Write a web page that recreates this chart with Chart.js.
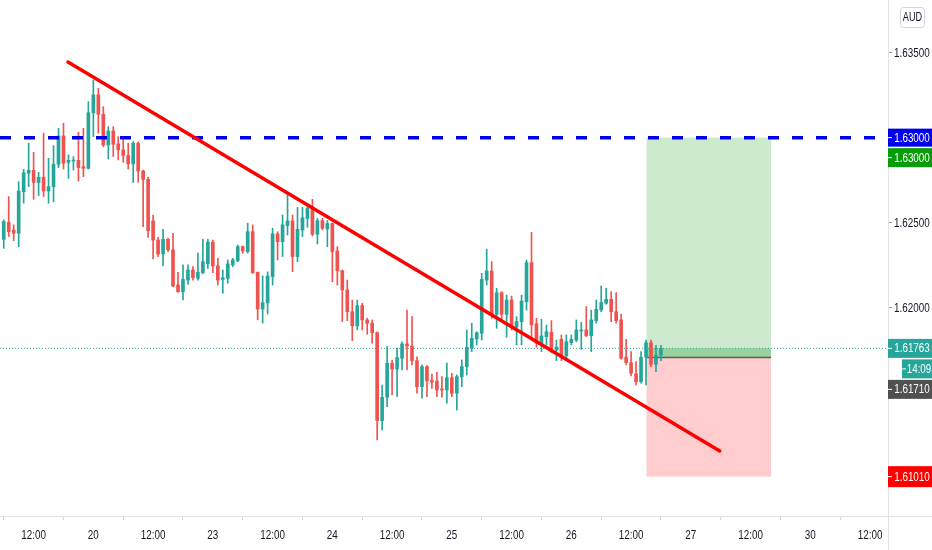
<!DOCTYPE html>
<html>
<head>
<meta charset="utf-8">
<script src="https://cdn.jsdelivr.net/npm/chart.js@4.4.1/dist/chart.umd.min.js"></script>
<style>
  html, body { margin: 0; padding: 0; background: #ffffff; }
  #wrap { position: relative; width: 932px; height: 550px; }
</style>
</head>
<body>
<div id="wrap"><canvas id="chart"></canvas></div>
<script>
'use strict'
// hourly candles, hour 0 = 19th 12:00
const firstHour = -6
const opens = [
  1.62403, 1.62503, 1.62458, 1.62439, 1.62683, 1.62791, 1.62808, 1.62737, 1.62767, 1.62687,
  1.62712, 1.62844, 1.63010, 1.62855, 1.62863, 1.62867, 1.62830, 1.62820, 1.63146, 1.63251,
  1.63137, 1.62957, 1.63039, 1.62963, 1.62928, 1.62895, 1.62846, 1.62967, 1.62804, 1.62755,
  1.62511, 1.62399, 1.62318, 1.62403, 1.62341, 1.62135, 1.62096, 1.62164, 1.62223, 1.62174,
  1.62207, 1.62260, 1.62387, 1.62247, 1.62168, 1.62174, 1.62253, 1.62278, 1.62360, 1.62331,
  1.62448, 1.62209, 1.61994, 1.62031, 1.62184, 1.62435, 1.62389, 1.62484, 1.62511, 1.62302,
  1.62458, 1.62526, 1.62585, 1.62433, 1.62513, 1.62464, 1.62496, 1.62335, 1.62219, 1.62106,
  1.61978, 1.61895, 1.62014, 1.61930, 1.61911, 1.61855, 1.61339, 1.61476, 1.61676, 1.61642,
  1.61705, 1.61789, 1.61777, 1.61691, 1.61538, 1.61656, 1.61577, 1.61571, 1.61524, 1.61519,
  1.61591, 1.61500, 1.61597, 1.61656, 1.61764, 1.61818, 1.61852, 1.62164, 1.62217, 1.61963,
  1.62090, 1.61963, 1.62047, 1.61887, 1.61920, 1.62037, 1.62266, 1.61907, 1.61789, 1.61832,
  1.61858, 1.61754, 1.61816, 1.61719, 1.61796, 1.61812, 1.61865, 1.61871, 1.61838, 1.61926,
  1.61988, 1.62028, 1.62051, 1.61978, 1.61930, 1.61711, 1.61679, 1.61613, 1.61567, 1.61711,
  1.61796, 1.61669, 1.61722
]
const highs = [
  1.62517, 1.62654, 1.62488, 1.62741, 1.62814, 1.62967, 1.62914, 1.62796, 1.63026, 1.62879,
  1.62953, 1.63055, 1.63085, 1.62899, 1.62889, 1.63031, 1.63055, 1.63211, 1.63338, 1.63289,
  1.63182, 1.63065, 1.63065, 1.63006, 1.62996, 1.62967, 1.62976, 1.62976, 1.62810, 1.62769,
  1.62546, 1.62415, 1.62462, 1.62411, 1.62439, 1.62209, 1.62253, 1.62253, 1.62243, 1.62322,
  1.62405, 1.62403, 1.62399, 1.62292, 1.62223, 1.62282, 1.62292, 1.62370, 1.62364, 1.62498,
  1.62488, 1.62212, 1.62188, 1.62212, 1.62468, 1.62448, 1.62546, 1.62664, 1.62546, 1.62591,
  1.62591, 1.62605, 1.62638, 1.62526, 1.62526, 1.62513, 1.62499, 1.62360, 1.62223, 1.62164,
  1.62047, 1.62047, 1.62028, 1.61940, 1.61930, 1.61860, 1.61548, 1.61773, 1.61695, 1.61764,
  1.61802, 1.61988, 1.61949, 1.61714, 1.61666, 1.61662, 1.61612, 1.61622, 1.61598, 1.61676,
  1.61617, 1.61607, 1.61695, 1.61871, 1.61911, 1.61861, 1.62204, 1.62345, 1.62272, 1.62116,
  1.62096, 1.62076, 1.62070, 1.61949, 1.62076, 1.62282, 1.62444, 1.61940, 1.61934, 1.61900,
  1.61926, 1.61812, 1.61842, 1.61842, 1.61842, 1.61930, 1.61916, 1.62008, 1.61988, 1.62047,
  1.62129, 1.62116, 1.62096, 1.62090, 1.61965, 1.61816, 1.61744, 1.61685, 1.61744, 1.61812,
  1.61812, 1.61781, 1.61781
]
const lows = [
  1.62350, 1.62419, 1.62395, 1.62360, 1.62615, 1.62712, 1.62638, 1.62660, 1.62654, 1.62615,
  1.62624, 1.62824, 1.62816, 1.62761, 1.62810, 1.62745, 1.62771, 1.62816, 1.63006, 1.63026,
  1.62947, 1.62875, 1.62889, 1.62869, 1.62855, 1.62816, 1.62737, 1.62739, 1.62478, 1.62415,
  1.62288, 1.62302, 1.62249, 1.62331, 1.62125, 1.62092, 1.62047, 1.62139, 1.62164, 1.62164,
  1.62200, 1.62233, 1.62207, 1.62135, 1.62087, 1.62145, 1.62243, 1.62272, 1.62322, 1.62322,
  1.62204, 1.61930, 1.61911, 1.61965, 1.62135, 1.62282, 1.62302, 1.62429, 1.62213, 1.62272,
  1.62419, 1.62474, 1.62423, 1.62376, 1.62458, 1.62360, 1.62154, 1.62135, 1.61920, 1.61926,
  1.61808, 1.61871, 1.61871, 1.61846, 1.61793, 1.61225, 1.61284, 1.61421, 1.61490, 1.61480,
  1.61636, 1.61636, 1.61666, 1.61500, 1.61470, 1.61480, 1.61528, 1.61480, 1.61476, 1.61441,
  1.61480, 1.61401, 1.61538, 1.61607, 1.61744, 1.61783, 1.61812, 1.62135, 1.61939, 1.61881,
  1.61920, 1.61828, 1.61871, 1.61783, 1.61783, 1.61988, 1.61812, 1.61769, 1.61744, 1.61783,
  1.61738, 1.61691, 1.61691, 1.61705, 1.61783, 1.61802, 1.61757, 1.61832, 1.61744, 1.61911,
  1.61978, 1.62022, 1.61920, 1.61911, 1.61699, 1.61666, 1.61601, 1.61548, 1.61558, 1.61548,
  1.61655, 1.61626, 1.61691
]
const closes = [
  1.62507, 1.62448, 1.62439, 1.62687, 1.62794, 1.62808, 1.62737, 1.62767, 1.62687, 1.62712,
  1.62844, 1.63010, 1.62850, 1.62867, 1.62867, 1.62824, 1.62820, 1.63146, 1.63251, 1.63137,
  1.62957, 1.63039, 1.62961, 1.62928, 1.62895, 1.62846, 1.62967, 1.62804, 1.62755, 1.62454,
  1.62399, 1.62316, 1.62403, 1.62341, 1.62129, 1.62096, 1.62168, 1.62223, 1.62178, 1.62209,
  1.62272, 1.62387, 1.62247, 1.62164, 1.62178, 1.62259, 1.62282, 1.62360, 1.62335, 1.62448,
  1.62207, 1.61994, 1.62031, 1.62188, 1.62435, 1.62389, 1.62488, 1.62511, 1.62302, 1.62462,
  1.62530, 1.62585, 1.62433, 1.62513, 1.62468, 1.62496, 1.62331, 1.62219, 1.62106, 1.61978,
  1.61895, 1.62014, 1.61930, 1.61911, 1.61855, 1.61339, 1.61476, 1.61676, 1.61642, 1.61709,
  1.61789, 1.61777, 1.61691, 1.61538, 1.61656, 1.61573, 1.61565, 1.61519, 1.61519, 1.61591,
  1.61500, 1.61597, 1.61656, 1.61769, 1.61822, 1.61855, 1.62168, 1.62217, 1.61963, 1.62090,
  1.61963, 1.62047, 1.61887, 1.61920, 1.62041, 1.62266, 1.61901, 1.61793, 1.61836, 1.61861,
  1.61760, 1.61770, 1.61719, 1.61802, 1.61816, 1.61871, 1.61871, 1.61838, 1.61930, 1.61992,
  1.62033, 1.62051, 1.61978, 1.61926, 1.61705, 1.61679, 1.61617, 1.61567, 1.61711, 1.61796,
  1.61669, 1.61722, 1.61763
]

const xTickLabels = ['12:00', '20', '12:00', '23', '12:00', '24', '12:00', '25', '12:00', '26', '12:00', '27', '12:00', '30', '12:00']
const yTickValues = [1.610, 1.615, 1.620, 1.625, 1.630, 1.635]

// drawings
const trendHours = [6.9, 137.8]
const trendPrices = [1.63444, 1.61161]
const levelPrice = 1.63
const lastPrice = 1.61763
const entryPrice = 1.6171
const targetPrice = 1.63
const stopPrice = 1.6101
const tradeHours = [123.1, 148.1]
const countdown = '14:09'
const currency = 'AUD'

;(() => {
  const up = '#26a69a'
  const down = '#ef5350'
  const xMin = -6.75
  const xMax = 171.6
  const yMin = 1.60779
  const yMax = 1.63808
  const font = "'Liberation Sans', Arial, sans-serif"
  const squeeze = 0.76

  const hours = closes.map((_, i) => firstHour + i)
  const colors = closes.map((c, i) => (c >= opens[i] ? up : down))

  // narrow text, the price scale font is condensed
  function text(ctx, str, x, y, align, color, size = 13) {
    ctx.save()
    ctx.translate(x, y)
    ctx.scale(squeeze, 1)
    ctx.fillStyle = color
    ctx.font = size + 'px ' + font
    ctx.textAlign = align
    ctx.textBaseline = 'middle'
    ctx.fillText(str, 0, 0)
    ctx.restore()
  }

  function tag(ctx, str, cy, bg, left, right, h) {
    ctx.fillStyle = bg
    ctx.fillRect(left, cy - h / 2, right - left, h)
    ctx.fillStyle = '#ffffff'
    ctx.fillRect(left, cy - 0.5, 4, 1)
    text(ctx, str, (left + right) / 2 + 2, cy + 0.5, 'center', '#ffffff')
  }

  const overlay = {
    id: 'overlay',
    beforeDatasetsDraw(chart) {
      const { ctx, scales: { x, y } } = chart
      const x0 = x.getPixelForValue(tradeHours[0])
      const x1 = x.getPixelForValue(tradeHours[1])
      const yT = y.getPixelForValue(targetPrice)
      const yE = y.getPixelForValue(entryPrice)
      const yS = y.getPixelForValue(stopPrice)
      const yL = y.getPixelForValue(lastPrice)
      ctx.save()
      ctx.fillStyle = 'rgba(76, 175, 80, 0.28)'
      ctx.fillRect(x0, yT, x1 - x0, yE - yT)
      ctx.fillStyle = 'rgba(255, 82, 82, 0.29)'
      ctx.fillRect(x0, yE, x1 - x0, yS - yE)
      ctx.fillStyle = 'rgba(76, 175, 80, 0.4)'
      ctx.fillRect(x0, yL, x1 - x0, yE - yL)
      ctx.strokeStyle = '#5d5d5d'
      ctx.lineWidth = 1.5
      ctx.beginPath()
      ctx.moveTo(x0, yE)
      ctx.lineTo(x1, yE)
      ctx.stroke()
      ctx.restore()
    },
    afterDraw(chart) {
      const { ctx, chartArea, scales: { x, y } } = chart
      const w = chart.width
      const h = chart.height
      const r = chartArea.right
      ctx.save()
      // axis frame
      ctx.strokeStyle = '#e0e3eb'
      ctx.lineWidth = 1
      ctx.beginPath()
      ctx.moveTo(r + 0.5, 0)
      ctx.lineTo(r + 0.5, h)
      ctx.moveTo(0, chartArea.bottom + 0.5)
      ctx.lineTo(w, chartArea.bottom + 0.5)
      ctx.stroke()

      // tick labels
      x.ticks.forEach((t, i) => {
        text(ctx, xTickLabels[i], x.getPixelForTick(i), chartArea.bottom + 19, 'center', '#131722')
      })
      y.ticks.forEach((t, i) => {
        text(ctx, Number(t.value).toFixed(5), r + 6, y.getPixelForTick(i) + 0.5, 'left', '#131722')
      })

      // price tags
      const yLevel = y.getPixelForValue(levelPrice)
      const yLast = y.getPixelForValue(lastPrice)
      tag(ctx, levelPrice.toFixed(5), yLevel, '#0000ee', r, w, 18)
      tag(ctx, targetPrice.toFixed(5), yLevel + 20, '#089c08', r, w, 19)
      tag(ctx, stopPrice.toFixed(5), y.getPixelForValue(stopPrice), '#ff0000', r, w, 21)
      tag(ctx, entryPrice.toFixed(5), yLast + 41, '#505050', r, w, 19)
      tag(ctx, countdown, yLast + 20.5, up, r + 14, w, 19)
      tag(ctx, lastPrice.toFixed(5), yLast, up, r, w, 19)

      // currency box
      ctx.strokeStyle = '#d1d4dc'
      ctx.beginPath()
      ctx.roundRect(900.5, 7.5, 24, 20, 3)
      ctx.stroke()
      text(ctx, currency, 912.5, 18, 'center', '#131722', 12)
      ctx.restore()
    }
  }

  new Chart(document.getElementById('chart'), {
    type: 'bar',
    data: {
      datasets: [
        {
          type: 'line',
          data: trendHours.map((hr, i) => ({ x: hr, y: trendPrices[i] })),
          borderColor: '#ff0000',
          borderWidth: 3.5,
          borderCapStyle: 'round',
          pointRadius: 0,
          order: 0
        },
        {
          type: 'line',
          data: [{ x: xMin, y: levelPrice }, { x: xMax, y: levelPrice }],
          borderColor: '#0000ee',
          borderWidth: 3.5,
          borderDash: [11, 13],
          pointRadius: 0,
          order: 0
        },
        {
          type: 'line',
          data: [{ x: xMin, y: lastPrice }, { x: xMax, y: lastPrice }],
          borderColor: up,
          borderWidth: 1,
          borderDash: [1, 2],
          pointRadius: 0,
          order: 3
        },
        {
          label: 'body',
          data: hours.map((hr, i) => ({ x: hr, y: [opens[i], closes[i]] })),
          backgroundColor: colors,
          borderWidth: 0,
          barThickness: 3,
          minBarLength: 1,
          grouped: false,
          order: 1
        },
        {
          label: 'wick',
          data: hours.map((hr, i) => ({ x: hr, y: [lows[i], highs[i]] })),
          backgroundColor: colors,
          borderWidth: 0,
          barThickness: 1,
          grouped: false,
          order: 2
        }
      ]
    },
    options: {
      responsive: true,
      maintainAspectRatio: false,
      animation: false,
      events: [],
      layout: { padding: 0 },
      scales: {
        x: {
          type: 'linear',
          min: xMin,
          max: xMax,
          offset: false,
          afterBuildTicks: (scale) => {
            scale.ticks = xTickLabels.map((_, i) => ({ value: i * 12 }))
          },
          afterFit: (scale) => {
            scale.height = 34
          },
          ticks: { display: false },
          grid: {
            drawOnChartArea: false,
            tickLength: 4,
            color: '#d1d4dc'
          },
          border: { display: false }
        },
        y: {
          type: 'linear',
          position: 'right',
          min: yMin,
          max: yMax,
          afterBuildTicks: (scale) => {
            scale.ticks = yTickValues.map((v) => ({ value: v }))
          },
          afterFit: (scale) => {
            scale.width = 44
          },
          ticks: { display: false },
          grid: {
            drawOnChartArea: false,
            tickLength: 4,
            color: '#9598a1'
          },
          border: { display: false }
        }
      },
      plugins: {
        legend: { display: false },
        tooltip: { enabled: false }
      }
    },
    plugins: [overlay]
  })
})()
</script>
</body>
</html>
